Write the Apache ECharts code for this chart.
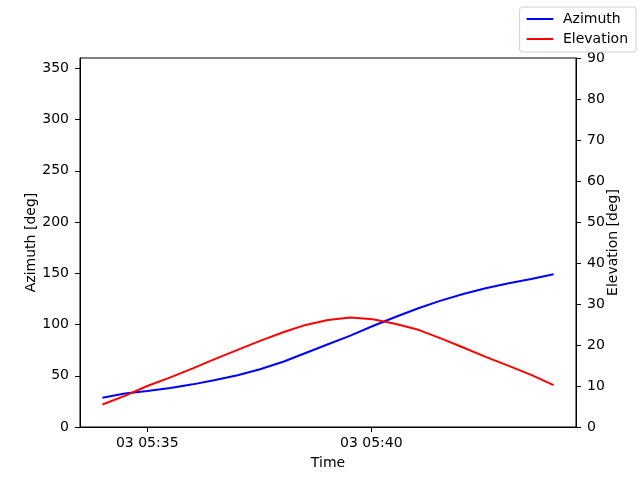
<!DOCTYPE html>
<html lang="en">
<head>
<meta charset="UTF-8">
<title>Azimuth / Elevation</title>
<style>
  html, body { margin: 0; padding: 0; background: #fff; }
  #chart { width: 640px; height: 480px; }
</style>
</head>
<body>
<div id="chart"></div>
<script src="https://cdn.jsdelivr.net/npm/echarts@6/dist/echarts.min.js"></script>
<script>
// sample times (day 03)
var times = [
  '2024-01-03 05:34:00', '2024-01-03 05:34:30', '2024-01-03 05:35:00',
  '2024-01-03 05:35:31', '2024-01-03 05:36:01', '2024-01-03 05:36:31',
  '2024-01-03 05:37:01', '2024-01-03 05:37:31', '2024-01-03 05:38:02',
  '2024-01-03 05:38:32', '2024-01-03 05:39:02', '2024-01-03 05:39:32',
  '2024-01-03 05:40:02', '2024-01-03 05:40:33', '2024-01-03 05:41:03',
  '2024-01-03 05:41:33', '2024-01-03 05:42:03', '2024-01-03 05:42:33',
  '2024-01-03 05:43:04', '2024-01-03 05:43:34', '2024-01-03 05:44:04'
];
var azimuth = [28.6, 32.6, 35.1, 38.0, 41.6, 45.9, 50.4, 56.3, 63.7, 72.2, 80.7,
               89.1, 98.5, 107.6, 115.8, 123.3, 129.8, 135.3, 140.2, 144.4, 149.0];
var elevation = [5.5, 7.6, 10.0, 12.1, 14.3, 16.6, 18.8, 21.0, 23.1, 24.9, 26.1,
                 26.7, 26.3, 25.1, 23.7, 21.6, 19.4, 17.1, 14.9, 12.7, 10.2];
var azTicks = [0, 50, 100, 150, 200, 250, 300, 350];
var timeTicks = ['2024-01-03 05:35:00', '2024-01-03 05:40:00'];

function ts(s) { return new Date(s.replace(' ', 'T')).getTime(); }
function pad(n) { return n < 10 ? '0' + n : '' + n; }

var font = 'DejaVu Sans';
var lineIcon = 'path://M0,0 L40,0 L40,3 L0,3 Z';
var chart = echarts.init(document.getElementById('chart'));

var option = {
  animation: false,
  textStyle: { fontFamily: font },
  grid: {
    left: 80, right: 64, top: 58, bottom: 53,
    show: true, borderColor: '#000', borderWidth: 1
  },
  legend: {
    orient: 'vertical',
    right: 4, top: 7,
    padding: [5, 8, 6, 7],
    itemGap: 6,
    itemWidth: 28, itemHeight: 2,
    borderColor: '#d0d0d0', borderWidth: 1, borderRadius: 3,
    textStyle: { fontFamily: font, fontSize: 14, color: '#000', padding: [0, 0, 0, 4] },
    data: [
      { name: 'Azimuth', icon: lineIcon },
      { name: 'Elevation', icon: lineIcon }
    ]
  },
  xAxis: {
    type: 'value',
    min: ts('2024-01-03 05:33:30'),
    max: ts('2024-01-03 05:44:34'),
    name: 'Time',
    nameLocation: 'middle',
    nameGap: 29,
    nameMoveOverlap: false,
    nameTextStyle: { fontFamily: font, fontSize: 14, color: '#000' },
    axisLine: { lineStyle: { color: '#000' } },
    axisTick: { show: true, inside: false, length: 5, lineStyle: { color: '#000' },
                customValues: timeTicks.map(ts) },
    axisLabel: {
      color: '#000', fontFamily: font, fontSize: 14, margin: 9,
      customValues: timeTicks.map(ts),
      formatter: function (v) {
        var d = new Date(v);
        return pad(d.getDate()) + ' ' + pad(d.getHours()) + ':' + pad(d.getMinutes());
      }
    },
    splitLine: { show: false }
  },
  yAxis: [
    {
      type: 'value',
      min: 0, max: 360,
      position: 'left',
      name: 'Azimuth [deg]',
      nameLocation: 'middle',
      nameGap: 42,
      nameMoveOverlap: false,
      nameRotate: 90,
      nameTextStyle: { fontFamily: font, fontSize: 14, color: '#000' },
      axisLine: { show: true, lineStyle: { color: '#000' } },
      axisTick: { show: true, length: 5, lineStyle: { color: '#000' }, customValues: azTicks },
      axisLabel: { color: '#000', fontFamily: font, fontSize: 14, margin: 11, customValues: azTicks },
      splitLine: { show: false }
    },
    {
      type: 'value',
      min: 0, max: 90, interval: 10,
      position: 'right',
      name: 'Elevation [deg]',
      nameLocation: 'middle',
      nameGap: 30,
      nameMoveOverlap: false,
      nameRotate: 90,
      nameTextStyle: { fontFamily: font, fontSize: 14, color: '#000' },
      axisLine: { show: true, lineStyle: { color: '#000' } },
      axisTick: { show: true, length: 5, lineStyle: { color: '#000' } },
      axisLabel: { color: '#000', fontFamily: font, fontSize: 14, margin: 11 },
      splitLine: { show: false }
    }
  ],
  series: [
    {
      name: 'Azimuth',
      type: 'line',
      yAxisIndex: 0,
      symbol: 'none',
      color: '#0000ff',
      lineStyle: { color: '#0000ff', width: 2 },
      data: times.map(function (t, i) { return [ts(t), azimuth[i]]; })
    },
    {
      name: 'Elevation',
      type: 'line',
      yAxisIndex: 1,
      symbol: 'none',
      color: '#ff0000',
      lineStyle: { color: '#ff0000', width: 2 },
      data: times.map(function (t, i) { return [ts(t), elevation[i]]; })
    }
  ]
};
chart.setOption(option);
</script>
</body>
</html>
